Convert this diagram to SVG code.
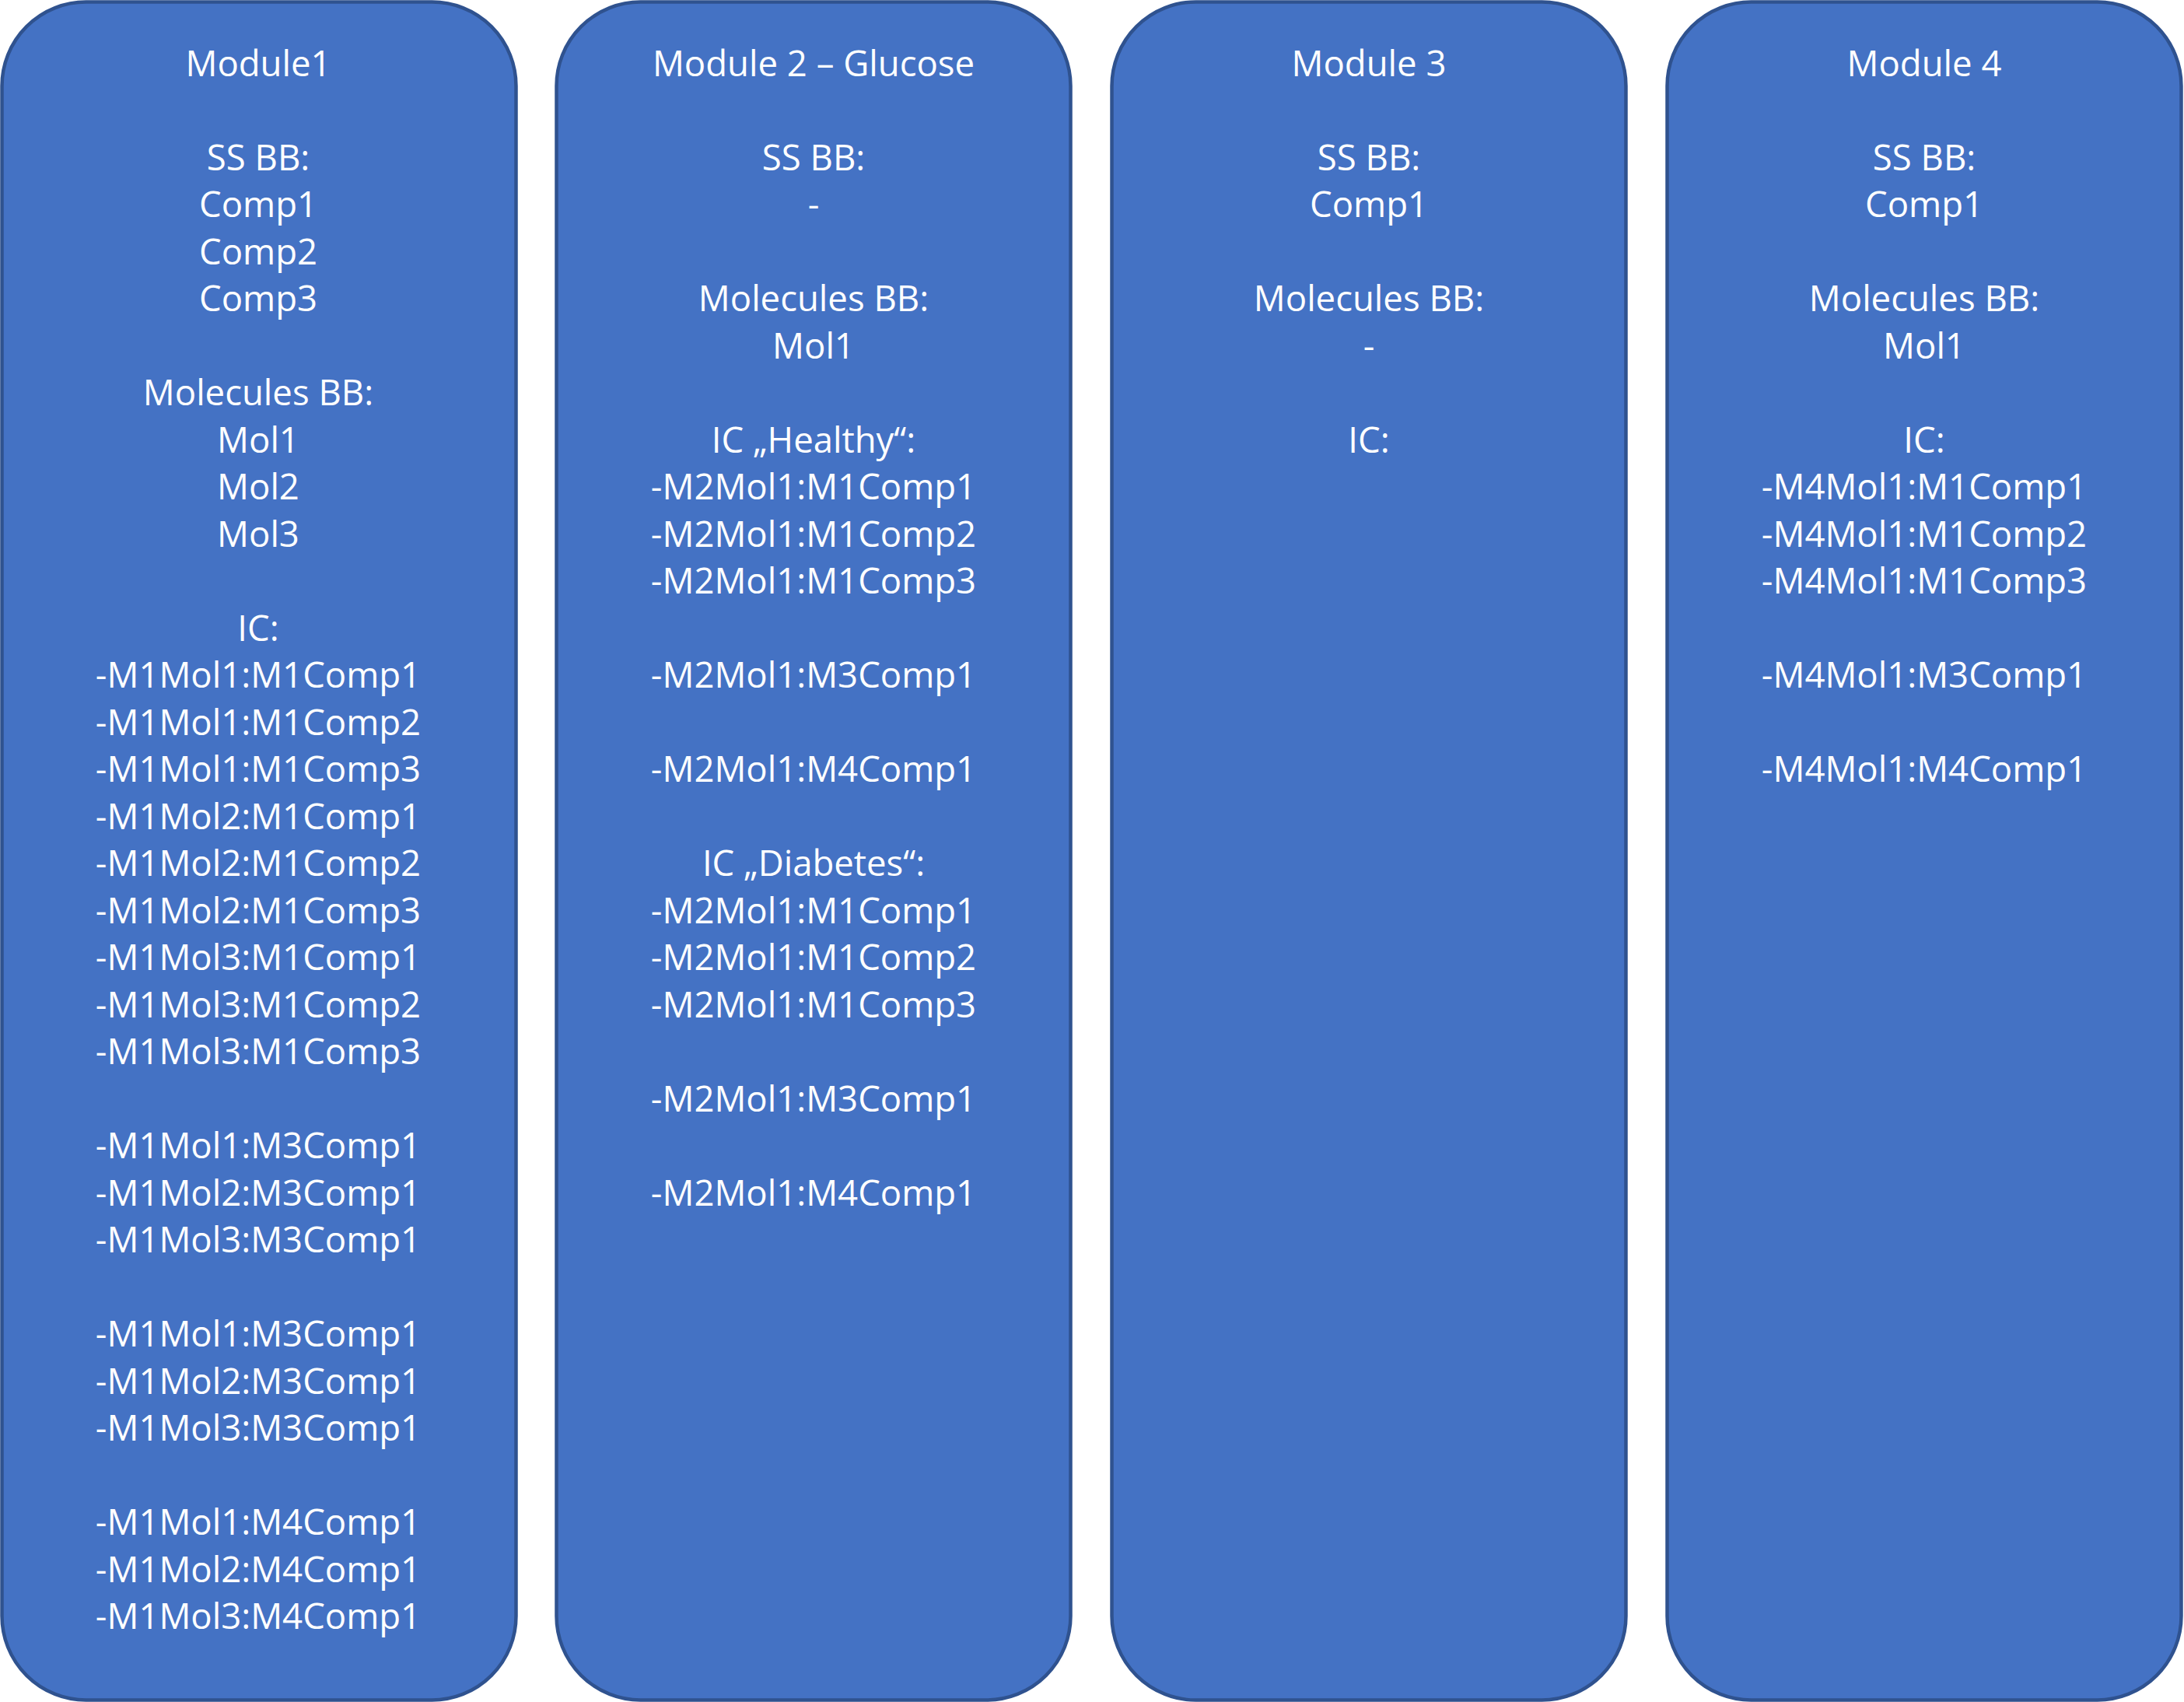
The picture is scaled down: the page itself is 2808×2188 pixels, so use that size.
<svg xmlns="http://www.w3.org/2000/svg" width="2808" height="2188" viewBox="0 0 2808 2188">
<style>
.box{fill:#4472C4;stroke:#2F528F;stroke-width:4.5}
.t{font-family:"Open Sans","Noto Sans","Liberation Sans",sans-serif;font-size:45.5px;fill:#FFFFFF;text-anchor:middle}
</style>
<rect width="2808" height="2188" fill="#FFFFFF"/>
<g id="connectors"></g>
<g id="module1">
<rect class="box" x="2.5" y="2.5" width="661" height="2183" rx="108" ry="108"/>
<g class="t">
<text x="332" y="97.7">Module1</text>
<text x="332" y="218.7">SS BB:</text>
<text x="332" y="279.2">Comp1</text>
<text x="332" y="339.7">Comp2</text>
<text x="332" y="400.2">Comp3</text>
<text x="332" y="521.2">Molecules BB:</text>
<text x="332" y="581.7">Mol1</text>
<text x="332" y="642.2">Mol2</text>
<text x="332" y="702.7">Mol3</text>
<text x="332" y="823.7">IC:</text>
<text x="332" y="884.2">-M1Mol1:M1Comp1</text>
<text x="332" y="944.7">-M1Mol1:M1Comp2</text>
<text x="332" y="1005.2">-M1Mol1:M1Comp3</text>
<text x="332" y="1065.7">-M1Mol2:M1Comp1</text>
<text x="332" y="1126.2">-M1Mol2:M1Comp2</text>
<text x="332" y="1186.7">-M1Mol2:M1Comp3</text>
<text x="332" y="1247.2">-M1Mol3:M1Comp1</text>
<text x="332" y="1307.7">-M1Mol3:M1Comp2</text>
<text x="332" y="1368.2">-M1Mol3:M1Comp3</text>
<text x="332" y="1489.2">-M1Mol1:M3Comp1</text>
<text x="332" y="1549.7">-M1Mol2:M3Comp1</text>
<text x="332" y="1610.2">-M1Mol3:M3Comp1</text>
<text x="332" y="1731.2">-M1Mol1:M3Comp1</text>
<text x="332" y="1791.7">-M1Mol2:M3Comp1</text>
<text x="332" y="1852.2">-M1Mol3:M3Comp1</text>
<text x="332" y="1973.2">-M1Mol1:M4Comp1</text>
<text x="332" y="2033.7">-M1Mol2:M4Comp1</text>
<text x="332" y="2094.2">-M1Mol3:M4Comp1</text>
</g>
</g>
<g id="module2">
<rect class="box" x="715.5" y="2.5" width="661" height="2183" rx="108" ry="108"/>
<g class="t">
<text x="1046" y="97.7">Module 2 – Glucose</text>
<text x="1046" y="218.7">SS BB:</text>
<text x="1046" y="279.2">-</text>
<text x="1046" y="400.2">Molecules BB:</text>
<text x="1046" y="460.7">Mol1</text>
<text x="1046" y="581.7">IC „Healthy“:</text>
<text x="1046" y="642.2">-M2Mol1:M1Comp1</text>
<text x="1046" y="702.7">-M2Mol1:M1Comp2</text>
<text x="1046" y="763.2">-M2Mol1:M1Comp3</text>
<text x="1046" y="884.2">-M2Mol1:M3Comp1</text>
<text x="1046" y="1005.2">-M2Mol1:M4Comp1</text>
<text x="1046" y="1126.2">IC „Diabetes“:</text>
<text x="1046" y="1186.7">-M2Mol1:M1Comp1</text>
<text x="1046" y="1247.2">-M2Mol1:M1Comp2</text>
<text x="1046" y="1307.7">-M2Mol1:M1Comp3</text>
<text x="1046" y="1428.7">-M2Mol1:M3Comp1</text>
<text x="1046" y="1549.7">-M2Mol1:M4Comp1</text>
</g>
</g>
<g id="module3">
<rect class="box" x="1429.5" y="2.5" width="661" height="2183" rx="108" ry="108"/>
<g class="t">
<text x="1760" y="97.7">Module 3</text>
<text x="1760" y="218.7">SS BB:</text>
<text x="1760" y="279.2">Comp1</text>
<text x="1760" y="400.2">Molecules BB:</text>
<text x="1760" y="460.7">-</text>
<text x="1760" y="581.7">IC:</text>
</g>
</g>
<g id="module4">
<rect class="box" x="2143.5" y="2.5" width="661" height="2183" rx="108" ry="108"/>
<g class="t">
<text x="2474" y="97.7">Module 4</text>
<text x="2474" y="218.7">SS BB:</text>
<text x="2474" y="279.2">Comp1</text>
<text x="2474" y="400.2">Molecules BB:</text>
<text x="2474" y="460.7">Mol1</text>
<text x="2474" y="581.7">IC:</text>
<text x="2474" y="642.2">-M4Mol1:M1Comp1</text>
<text x="2474" y="702.7">-M4Mol1:M1Comp2</text>
<text x="2474" y="763.2">-M4Mol1:M1Comp3</text>
<text x="2474" y="884.2">-M4Mol1:M3Comp1</text>
<text x="2474" y="1005.2">-M4Mol1:M4Comp1</text>
</g>
</g>
</svg>
